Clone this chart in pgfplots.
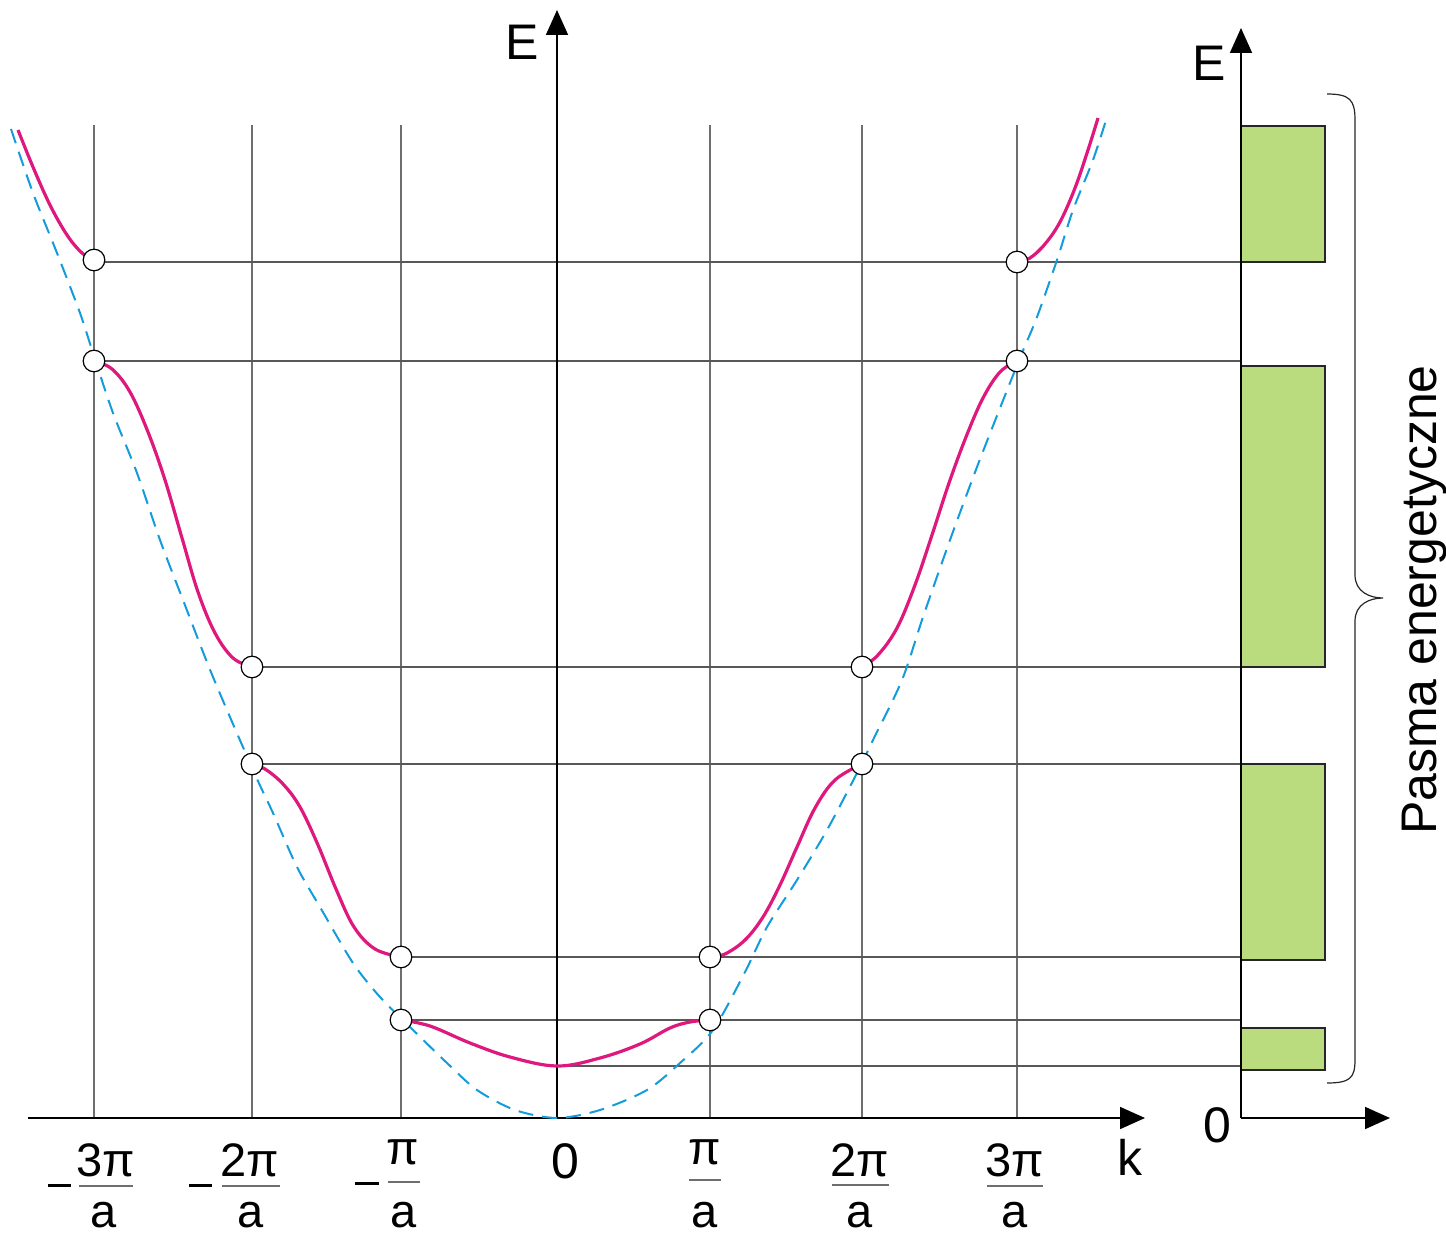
\documentclass[border=0pt]{standalone}
\usepackage{fontspec}
\setmainfont{Liberation Sans}
\usepackage{pgfplots}
\pgfplotsset{compat=1.18}
\usetikzlibrary{arrows.meta}
\definecolor{bandgreen}{RGB}{187,220,126}
\definecolor{curvemag}{RGB}{222,24,124}
\definecolor{freeblue}{RGB}{20,155,220}
\definecolor{gridc}{RGB}{110,110,110}
\tikzset{lbl/.style={font=\fontsize{25}{30}\selectfont, inner sep=0pt},
         tlbl/.style={font=\fontsize{23.5}{28}\selectfont, inner sep=0pt}}
\begin{document}
\begin{tikzpicture}
\begin{axis}[x=0.5pt, y=0.5pt, xmin=0, xmax=1446, ymin=0, ymax=1236,
  y dir=reverse, hide axis, clip=false]
% vertical grid lines
\addplot[gridc, line width=0.75pt] coordinates {(94,125) (94,1118)};
\addplot[gridc, line width=0.75pt] coordinates {(252,125) (252,1118)};
\addplot[gridc, line width=0.75pt] coordinates {(401,125) (401,1118)};
\addplot[gridc, line width=0.75pt] coordinates {(710,125) (710,1118)};
\addplot[gridc, line width=0.75pt] coordinates {(862,125) (862,1118)};
\addplot[gridc, line width=0.75pt] coordinates {(1017,125) (1017,1118)};
% horizontal level lines
\addplot[gridc!80!black, line width=0.75pt] coordinates {(94,262) (1241,262)};
\addplot[gridc!80!black, line width=0.75pt] coordinates {(94,361) (1241,361)};
\addplot[gridc!80!black, line width=0.75pt] coordinates {(252,667) (1241,667)};
\addplot[gridc!80!black, line width=0.75pt] coordinates {(252,764) (1241,764)};
\addplot[gridc!80!black, line width=0.75pt] coordinates {(401,957) (1241,957)};
\addplot[gridc!80!black, line width=0.75pt] coordinates {(401,1020) (1241,1020)};
\addplot[gridc!80!black, line width=0.75pt] coordinates {(557,1066) (1241,1066)};
% energy bands
\addplot[fill=bandgreen, draw=black!85, line width=0.6pt] coordinates {(1241,126) (1325,126) (1325,262) (1241,262)} -- cycle;
\addplot[fill=bandgreen, draw=black!85, line width=0.6pt] coordinates {(1241,366) (1325,366) (1325,667) (1241,667)} -- cycle;
\addplot[fill=bandgreen, draw=black!85, line width=0.6pt] coordinates {(1241,764) (1325,764) (1325,960) (1241,960)} -- cycle;
\addplot[fill=bandgreen, draw=black!85, line width=0.6pt] coordinates {(1241,1028) (1325,1028) (1325,1070) (1241,1070)} -- cycle;
% axes
\addplot[black, line width=0.85pt, -{Triangle[length=12.5pt,width=11pt]}] coordinates {(28,1118) (1145,1118)};
\addplot[black, line width=0.85pt, -{Triangle[length=12.5pt,width=11pt]}] coordinates {(557,1118) (557,10)};
\addplot[black, line width=0.85pt, -{Triangle[length=12.5pt,width=11pt]}] coordinates {(1241,1118) (1390,1118)};
\addplot[black, line width=0.85pt, -{Triangle[length=12.5pt,width=11pt]}] coordinates {(1241,1118) (1241,28)};
% free electron parabola
\addplot[freeblue, line width=1pt, dash pattern=on 7.5pt off 4.5pt, smooth, tension=0.5] coordinates {
(11,129) (33,193) (57,253) (80,313) (93,353) (113,413) (137,473) (160,540) (183,600) (213,677)
(253,770) (273,813) (297,867) (320,907) (353,963) (380,997) (410,1027) (447,1063) (477,1090)
(515,1110) (557,1118) (600,1110) (647,1090) (680,1063) (713,1030) (745,972) (767,927) (797,880)
(827,830) (857,773) (873,740) (902,680) (923,617) (950,540) (977,467) (1002,403) (1022,353)
(1037,317) (1057,260) (1073,210) (1093,160) (1107,117)};
% band curves
\addplot[curvemag, line width=1.6pt, smooth, tension=0.6] coordinates {(18,130) (33,167) (50,205) (67,235) (82,253) (94,260)};
\addplot[curvemag, line width=1.6pt, smooth, tension=0.6] coordinates {(94,361) (112,369) (130,392) (148,432) (165,480) (182,538) (198,592) (215,633) (233,658) (252,667)};
\addplot[curvemag, line width=1.6pt, smooth, tension=0.6] coordinates {(252,764) (265,769) (283,784) (300,807) (318,845) (336,889) (354,927) (375,949) (401,957)};
\addplot[curvemag, line width=1.6pt, smooth, tension=0.6] coordinates {(401,1020) (430,1026) (470,1043) (510,1057) (557,1066) (600,1058) (640,1044) (670,1028) (690,1022) (710,1020)};
\addplot[curvemag, line width=1.6pt, smooth, tension=0.6] coordinates {(710,957) (725,954) (745,940) (763,917) (780,885) (797,847) (815,808) (835,780) (862,764)};
\addplot[curvemag, line width=1.6pt, smooth, tension=0.6] coordinates {(862,667) (878,655) (897,628) (915,585) (932,535) (949,483) (966,437) (983,398) (1000,372) (1017,361)};
\addplot[curvemag, line width=1.6pt, smooth, tension=0.6] coordinates {(1017,262) (1030,258) (1045,244) (1060,222) (1075,188) (1088,150) (1098,118)};
% zone boundary points
\addplot[only marks, mark=*, mark size=5.4pt, mark options={fill=white, draw=black, line width=0.6pt}] coordinates {
(94,260) (94,361) (252,667) (252,764) (401,957) (401,1020) (710,957) (710,1020) (862,667) (862,764) (1017,262) (1017,361)};
% brace
\draw[black!85, line width=0.6pt] (axis cs:1327,94) .. controls (axis cs:1350,94) and (axis cs:1355,100) .. (axis cs:1355,120)
  -- (axis cs:1355,575) .. controls (axis cs:1355,592) and (axis cs:1370,598) .. (axis cs:1383,598)
  .. controls (axis cs:1370,598) and (axis cs:1355,604) .. (axis cs:1355,621)
  -- (axis cs:1355,1060) .. controls (axis cs:1355,1078) and (axis cs:1350,1083) .. (axis cs:1327,1083);
% labels
\node[lbl, anchor=base] at (axis cs:522,60) {E};
\node[lbl, anchor=base] at (axis cs:1209,81) {E};
\node[lbl, anchor=base] at (axis cs:565,1178) {0};
\node[lbl, anchor=base] at (axis cs:1217,1142) {0};
\node[lbl, anchor=base] at (axis cs:1130,1175) {k};
\node[lbl, anchor=base, rotate=90] at (axis cs:1436,600) {Pasma energetyczne};
% tick fractions
\node[tlbl, anchor=base] at (axis cs:106,1176) {3π};
\node[tlbl, anchor=base] at (axis cs:250,1176) {2π};
\node[tlbl, anchor=base] at (axis cs:403,1164) {π};
\node[tlbl, anchor=base] at (axis cs:705,1164) {π};
\node[tlbl, anchor=base] at (axis cs:860,1176) {2π};
\node[tlbl, anchor=base] at (axis cs:1015,1176) {3π};
\node[tlbl, anchor=base] at (axis cs:104,1227) {a};
\node[tlbl, anchor=base] at (axis cs:251,1227) {a};
\node[tlbl, anchor=base] at (axis cs:404,1227) {a};
\node[tlbl, anchor=base] at (axis cs:705,1227) {a};
\node[tlbl, anchor=base] at (axis cs:860,1227) {a};
\node[tlbl, anchor=base] at (axis cs:1015,1227) {a};
\draw[gridc, line width=0.7pt] (axis cs:79,1186) -- (axis cs:133,1186);
\draw[gridc, line width=0.7pt] (axis cs:222,1186) -- (axis cs:280,1186);
\draw[gridc, line width=0.7pt] (axis cs:388,1182) -- (axis cs:420,1182);
\draw[gridc, line width=0.7pt] (axis cs:689,1180) -- (axis cs:721,1180);
\draw[gridc, line width=0.7pt] (axis cs:832,1185) -- (axis cs:889,1185);
\draw[gridc, line width=0.7pt] (axis cs:987,1186) -- (axis cs:1043,1186);
\draw[black, line width=1.5pt] (axis cs:48,1185) -- (axis cs:71,1185);
\draw[black, line width=1.5pt] (axis cs:189,1185) -- (axis cs:212,1185);
\draw[black, line width=1.5pt] (axis cs:355,1183) -- (axis cs:379,1183);
\end{axis}
\pgfresetboundingbox
\useasboundingbox (0,0) rectangle (723pt,618pt);
\end{tikzpicture}
\end{document}
